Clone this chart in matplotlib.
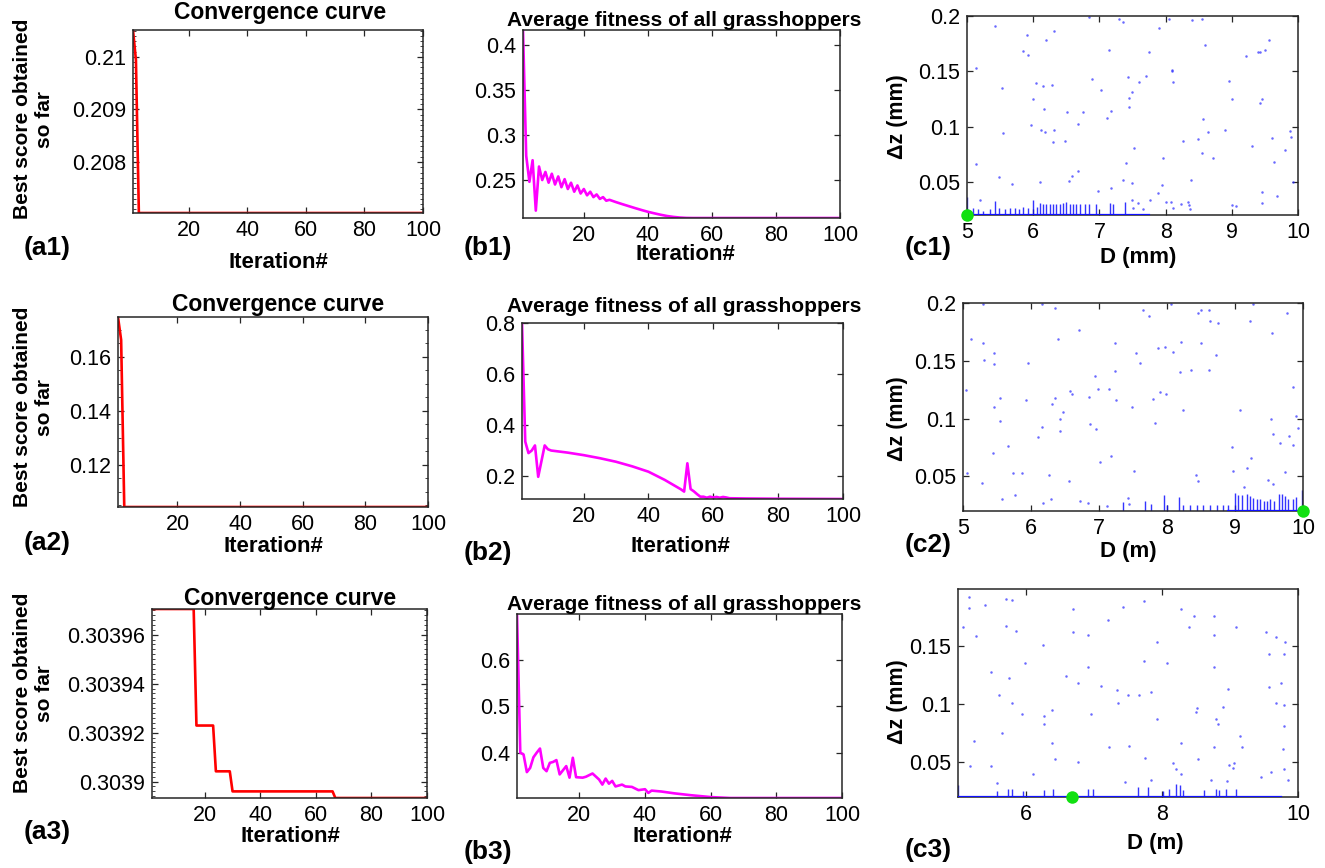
import matplotlib
matplotlib.use("Agg")
import matplotlib.pyplot as plt
from matplotlib.ticker import FuncFormatter, AutoMinorLocator

plt.rcParams['font.family'] = ['Liberation Sans', 'DejaVu Sans']

W, H = 1325, 868

# ---- convergence curves (best score so far) ----
a1_iter = [1, 2, 3, 100]
a1_best = [0.21051, 0.20994, 0.20703, 0.20703]

a2_iter = [1, 2, 3, 100]
a2_best = [0.1748, 0.1663, 0.1044, 0.1044]

a3_iter = [1, 16, 17, 23, 24, 29, 30, 66, 67, 100]
a3_best = [0.3039705, 0.3039705, 0.3039229, 0.3039229, 0.3039042,
           0.3039042, 0.3038960, 0.3038960, 0.3038933, 0.3038933]

# ---- average fitness of all grasshoppers ----
b1_iter = [1, 2, 3, 4, 5, 6, 7, 8, 9, 10, 11, 12, 13, 14, 15, 16, 17, 18, 19,
           20, 21, 22, 23, 24, 25, 26, 27, 28, 30, 32, 34, 36, 38, 40, 42, 44,
           46, 48, 50, 52, 54, 100]
b1_avg = [0.4167, 0.277, 0.248, 0.272, 0.216, 0.265, 0.250, 0.259, 0.247,
          0.257, 0.245, 0.254, 0.242, 0.251, 0.240, 0.247, 0.237, 0.244,
          0.235, 0.240, 0.233, 0.237, 0.231, 0.234, 0.229, 0.231, 0.227,
          0.228, 0.2255, 0.2232, 0.2210, 0.2188, 0.2167, 0.2147, 0.2130,
          0.2114, 0.2100, 0.2090, 0.2083, 0.2079, 0.2078, 0.2078]

b2_iter = [1, 2, 3, 4, 5, 6, 8, 9, 10, 15, 20, 25, 30, 35, 40, 45, 50, 51,
           52, 53, 54, 55, 56, 57, 58, 59, 60, 61, 62, 63, 64, 65, 70, 80, 100]
b2_avg = [0.80, 0.335, 0.29, 0.30, 0.32, 0.197, 0.32, 0.305, 0.30, 0.292,
          0.282, 0.270, 0.256, 0.238, 0.217, 0.185, 0.148, 0.139, 0.25,
          0.149, 0.14, 0.129, 0.119, 0.119, 0.115, 0.119, 0.116, 0.118,
          0.115, 0.118, 0.116, 0.113, 0.112, 0.111, 0.110]

b3_iter = [1, 2, 3, 4, 5, 6, 7, 8, 9, 10, 11, 12, 13, 14, 16, 17, 18, 19, 21,
           22, 24, 26, 27, 28, 29, 30, 31, 33, 34, 36, 38, 40, 41, 42, 45, 49,
           54, 60, 66, 100]
b3_avg = [0.70, 0.40, 0.396, 0.358, 0.367, 0.39, 0.400, 0.409, 0.367, 0.36,
          0.378, 0.380, 0.384, 0.353, 0.371, 0.346, 0.389, 0.347, 0.346,
          0.348, 0.355, 0.342, 0.331, 0.344, 0.333, 0.339, 0.327, 0.331,
          0.327, 0.326, 0.319, 0.321, 0.313, 0.318, 0.316, 0.312, 0.308,
          0.304, 0.302, 0.302]

# ---- search history: grasshopper positions (D, dz) ----
c1_d = [5.42, 5.90, 5.85, 5.92, 6.20, 6.31, 5.14, 5.53, 6.04, 6.29, 6.15, 5.99,
        6.16, 6.51, 6.75, 5.97, 6.12, 6.18, 6.31, 6.30, 6.48, 6.68, 5.55, 5.14,
        5.48, 5.68, 6.11, 6.54, 6.59, 6.68, 6.98, 6.89, 7.03, 7.14, 7.18, 7.12,
        6.84, 7.30, 7.36, 7.90, 8.05, 8.40, 8.55, 8.60, 7.75, 7.71, 7.43, 7.44,
        7.49, 7.60, 7.44, 8.09, 8.10, 8.11, 7.40, 7.53, 7.96, 8.26, 8.49, 8.55,
        8.64, 8.57, 8.71, 8.89, 8.96, 9.01, 9.21, 9.39, 9.42, 9.50, 9.56, 9.45,
        9.42, 9.61, 9.80, 9.88, 9.89, 9.30, 9.64, 9.92, 9.46, 9.45, 9.68, 8.39,
        7.88, 7.94, 7.36, 7.49, 7.18, 8.00, 8.08, 8.24, 8.34, 8.35, 9.00, 9.06,
        8.11, 7.77, 7.49, 7.58, 7.66, 7.51, 8.37, 5.20]
c1_dz = [0.191, 0.183, 0.168, 0.165, 0.178, 0.186, 0.153, 0.135, 0.139, 0.138,
         0.137, 0.125, 0.116, 0.113, 0.113, 0.101, 0.097, 0.095, 0.097, 0.086,
         0.087, 0.102, 0.094, 0.066, 0.054, 0.048, 0.050, 0.051, 0.055, 0.060,
         0.042, 0.143, 0.133, 0.169, 0.114, 0.108, 0.199, 0.197, 0.195, 0.189,
         0.197, 0.196, 0.197, 0.174, 0.167, 0.146, 0.145, 0.126, 0.131, 0.140,
         0.118, 0.151, 0.150, 0.140, 0.067, 0.081, 0.072, 0.087, 0.089, 0.076,
         0.095, 0.107, 0.072, 0.097, 0.141, 0.125, 0.164, 0.167, 0.167, 0.169,
         0.178, 0.125, 0.121, 0.090, 0.079, 0.096, 0.091, 0.082, 0.068, 0.050,
         0.041, 0.031, 0.037, 0.052, 0.040, 0.047, 0.052, 0.049, 0.044, 0.032,
         0.032, 0.030, 0.032, 0.029, 0.029, 0.028, 0.026, 0.034, 0.034, 0.031,
         0.025, 0.026, 0.025, 0.034]
# columns of positions piled just above the lower dz bound
c1_stack_d = [5.00, 5.09, 5.17, 5.24, 5.34, 5.42, 5.49, 5.58, 5.65, 5.72, 5.79,
              5.85, 5.92, 6.00, 6.05, 6.10, 6.15, 6.20, 6.25, 6.30, 6.35, 6.40,
              6.45, 6.50, 6.55, 6.60, 6.65, 6.70, 6.78, 6.85, 6.95, 7.16, 7.21,
              7.38]
c1_stack_top = [0.0366, 0.026, 0.025, 0.024, 0.025, 0.0325, 0.026, 0.025,
                0.026, 0.026, 0.025, 0.027, 0.026, 0.0335, 0.027, 0.031, 0.030,
                0.030, 0.030, 0.030, 0.030, 0.030, 0.031, 0.032, 0.030, 0.030,
                0.030, 0.030, 0.030, 0.030, 0.030, 0.031, 0.030, 0.032]
c1_floor = [5.0, 7.75]
c1_best = (5.0, 0.02)

c2_d = [5.12, 5.29, 5.31, 5.46, 5.46, 5.04, 5.46, 5.55, 5.55, 5.66, 5.44, 5.28,
        5.73, 5.58, 5.76, 5.06, 5.29, 6.16, 6.36, 6.40, 5.96, 5.93, 6.16, 6.11,
        6.36, 6.31, 6.42, 6.43, 6.47, 6.27, 5.87, 6.56, 6.58, 6.60, 6.18, 6.29,
        6.71, 6.94, 6.86, 6.98, 6.87, 6.96, 7.01, 7.17, 7.15, 7.25, 7.23, 7.24,
        7.48, 7.52, 7.55, 7.61, 7.65, 7.74, 7.79, 7.83, 7.87, 7.90, 7.97, 7.99,
        8.09, 8.06, 8.19, 8.21, 8.23, 8.36, 8.43, 8.50, 8.46, 8.50, 8.62, 8.63,
        8.75, 8.72, 8.62, 8.45, 8.96, 8.97, 9.07, 9.22, 9.27, 9.23, 9.17, 9.13,
        9.53, 9.55, 9.77, 9.85, 9.89, 9.93, 9.80, 9.66, 9.85, 9.56, 9.74, 9.48,
        9.56, 6.72, 6.84, 7.12, 7.43, 7.44]
c2_dz = [0.169, 0.165, 0.151, 0.157, 0.147, 0.125, 0.110, 0.118, 0.098, 0.076,
         0.070, 0.044, 0.053, 0.030, 0.034, 0.053, 0.199, 0.199, 0.196, 0.169,
         0.148, 0.116, 0.093, 0.084, 0.118, 0.113, 0.100, 0.089, 0.106, 0.051,
         0.053, 0.046, 0.124, 0.121, 0.027, 0.030, 0.177, 0.137, 0.119, 0.126,
         0.095, 0.091, 0.062, 0.068, 0.126, 0.116, 0.141, 0.165, 0.110, 0.055,
         0.157, 0.148, 0.194, 0.189, 0.117, 0.096, 0.161, 0.123, 0.162, 0.121,
         0.158, 0.199, 0.140, 0.166, 0.107, 0.142, 0.051, 0.165, 0.191, 0.194,
         0.194, 0.184, 0.183, 0.155, 0.142, 0.046, 0.075, 0.055, 0.107, 0.184,
         0.199, 0.066, 0.057, 0.041, 0.100, 0.174, 0.191, 0.127, 0.102, 0.092,
         0.085, 0.079, 0.077, 0.087, 0.054, 0.047, 0.043, 0.029, 0.027, 0.024,
         0.031, 0.026]
c2_stack_d = [7.36, 7.68, 7.77, 7.95, 8.00, 8.18, 8.24, 8.34, 8.44, 8.53, 8.63,
              8.73, 8.83, 8.90, 9.00, 9.05, 9.10, 9.18, 9.22, 9.27, 9.32, 9.37,
              9.42, 9.47, 9.52, 9.57, 9.64, 9.69, 9.74, 9.78, 9.85, 9.90, 9.99]
c2_stack_top = [0.028, 0.029, 0.026, 0.034, 0.025, 0.032, 0.025, 0.025, 0.025,
                0.025, 0.025, 0.025, 0.025, 0.025, 0.036, 0.034, 0.034, 0.035,
                0.033, 0.031, 0.030, 0.030, 0.029, 0.029, 0.030, 0.029, 0.035,
                0.035, 0.033, 0.030, 0.030, 0.032, 0.038]
c2_floor = [8.9, 10.0]
c2_best = (10.0, 0.02)

c3_d = [5.07, 5.16, 5.16, 5.39, 5.70, 5.80, 5.26, 5.71, 5.85, 5.48, 5.75, 5.60,
        5.79, 5.98, 5.94, 5.65, 5.24, 5.17, 5.48, 5.57, 6.11, 6.25, 6.27, 6.27,
        6.38, 6.38, 6.42, 6.59, 6.69, 6.69, 6.76, 6.76, 6.91, 6.91, 6.96, 7.10,
        7.20, 7.22, 7.34, 7.35, 7.42, 7.45, 7.50, 7.52, 7.66, 7.74, 7.74, 7.75,
        7.84, 7.93, 7.93, 7.84, 8.07, 8.16, 8.21, 8.28, 8.28, 8.28, 8.39, 8.47,
        8.52, 8.50, 8.53, 8.77, 8.76, 8.77, 8.79, 8.82, 8.77, 8.72, 8.89, 8.97,
        8.96, 8.99, 9.06, 9.09, 9.14, 9.18, 9.04, 9.53, 9.58, 9.57, 9.68, 9.75,
        9.68, 9.79, 9.81, 9.80, 9.80, 9.78, 9.80, 9.86, 9.45, 9.61]
c3_dz = [0.167, 0.193, 0.183, 0.186, 0.191, 0.190, 0.159, 0.168, 0.163, 0.128,
         0.123, 0.108, 0.101, 0.136, 0.092, 0.075, 0.068, 0.047, 0.047, 0.032,
         0.040, 0.151, 0.090, 0.083, 0.095, 0.067, 0.053, 0.124, 0.182, 0.162,
         0.118, 0.050, 0.160, 0.132, 0.092, 0.116, 0.173, 0.063, 0.112, 0.101,
         0.184, 0.033, 0.108, 0.064, 0.108, 0.189, 0.137, 0.054, 0.111, 0.154,
         0.087, 0.035, 0.136, 0.049, 0.044, 0.182, 0.067, 0.040, 0.167, 0.176,
         0.097, 0.093, 0.053, 0.176, 0.160, 0.132, 0.087, 0.083, 0.063, 0.035,
         0.098, 0.113, 0.034, 0.048, 0.049, 0.167, 0.073, 0.063, 0.045, 0.162,
         0.143, 0.115, 0.158, 0.118, 0.101, 0.143, 0.154, 0.099, 0.081, 0.061,
         0.044, 0.035, 0.037, 0.042]
c3_stack_d = [5.00, 5.58, 5.74, 5.80, 5.95, 6.27, 6.39, 6.91, 6.98, 7.64, 7.80,
              8.01, 8.11, 8.21, 8.26, 8.31, 8.62, 8.80, 8.84, 8.94, 9.09]
c3_stack_top = [0.030, 0.025, 0.027, 0.027, 0.025, 0.026, 0.027, 0.027, 0.027,
                0.029, 0.029, 0.025, 0.027, 0.031, 0.030, 0.026, 0.026, 0.027,
                0.026, 0.027, 0.027]
c3_floor = [5.0, 9.75]
c3_best = (6.68, 0.02)

iter_ticks = [20, 40, 60, 80, 100]

# axes boxes in pixels: left, top, right, bottom
boxes = {
    'a1': (133, 30, 423, 213), 'b1': (523, 30, 840, 218), 'c1': (967, 16, 1298, 215),
    'a2': (118, 317, 428, 507), 'b2': (522, 323, 843, 499), 'c2': (963, 303, 1303, 511),
    'a3': (152, 609, 427, 798), 'b3': (517, 614, 842, 798), 'c3': (958, 589, 1298, 797),
}

EDGE = '#262626'
fmt_g = FuncFormatter(lambda v, p: '%g' % round(v, 8))


def px_axes(fig, key):
    l, t, r, b = boxes[key]
    ax = fig.add_axes([l / W, 1 - b / H, (r - l) / W, (b - t) / H])
    for s in ax.spines.values():
        s.set_color(EDGE)
        s.set_linewidth(1.1)
    ax.tick_params(direction='in', top=True, right=True, length=4, width=0.9,
                   color=EDGE, labelsize=15.5, pad=5)
    ax.tick_params(which='minor', direction='in', top=False, right=True,
                   length=2, width=0.6, color=EDGE)
    return ax


def fig_text(x, y, s, **kw):
    fig.text(x / W, 1 - y / H, s, ha='center', va='center', **kw)


fig = plt.figure(figsize=(W / 100, H / 100), dpi=100)


def convergence(key, it, best, ylim, yticks, minors):
    ax = px_axes(fig, key)
    ax.plot(it, best, color='#ff0000', lw=1.9)
    ax.set_xlim(1, 100)
    ax.set_ylim(*ylim)
    ax.set_xticks(iter_ticks)
    ax.set_yticks(yticks)
    ax.yaxis.set_major_formatter(fmt_g)
    ax.yaxis.set_minor_locator(AutoMinorLocator(minors))
    return ax


def average(key, it, avg, ylim, yticks):
    ax = px_axes(fig, key)
    ax.plot(it, avg, color='#ff00ff', lw=1.9)
    ax.set_xlim(1, 100)
    ax.set_ylim(*ylim)
    ax.set_xticks(iter_ticks)
    ax.set_yticks(yticks)
    ax.yaxis.set_major_formatter(fmt_g)
    return ax


def history(key, d, dz, stack_d, stack_top, floor, best, ylim, xticks, yticks):
    ax = px_axes(fig, key)
    ax.plot(d, dz, 'o', color='#2a2aff', ms=1.8, mew=0, alpha=0.7)
    ax.vlines(stack_d, ylim[0], stack_top, color='#1010ff', lw=1.0, alpha=0.85)
    ax.plot(floor, [ylim[0]] * len(floor), color='#1010ff', lw=1.6, zorder=3)
    ax.plot(*best, 'o', color='#11e011', ms=9, mew=0, clip_on=False, zorder=5)
    ax.set_xlim(5, 10)
    ax.set_ylim(*ylim)
    ax.set_xticks(xticks)
    ax.set_yticks(yticks)
    ax.yaxis.set_major_formatter(fmt_g)
    return ax


convergence('a1', a1_iter, a1_best, (0.20703, 0.21051), [0.208, 0.209, 0.21], 10)
convergence('a2', a2_iter, a2_best, (0.1044, 0.1748), [0.12, 0.14, 0.16], 4)
convergence('a3', a3_iter, a3_best, (0.3038933, 0.3039705),
            [0.3039, 0.30392, 0.30394, 0.30396], 10)

average('b1', b1_iter, b1_avg, (0.2078, 0.4167), [0.25, 0.3, 0.35, 0.4])
average('b2', b2_iter, b2_avg, (0.11, 0.80), [0.2, 0.4, 0.6, 0.8])
average('b3', b3_iter, b3_avg, (0.302, 0.70), [0.4, 0.5, 0.6])

history('c1', c1_d, c1_dz, c1_stack_d, c1_stack_top, c1_floor, c1_best,
        (0.02, 0.2), [5, 6, 7, 8, 9, 10], [0.05, 0.1, 0.15, 0.2])
history('c2', c2_d, c2_dz, c2_stack_d, c2_stack_top, c2_floor, c2_best,
        (0.02, 0.2), [5, 6, 7, 8, 9, 10], [0.05, 0.1, 0.15, 0.2])
history('c3', c3_d, c3_dz, c3_stack_d, c3_stack_top, c3_floor, c3_best,
        (0.02, 0.1995), [6, 8, 10], [0.05, 0.1, 0.15])

bold = dict(fontweight='bold')

# titles
for x, y in [(280, 12), (278, 305), (290, 598)]:
    fig_text(x, y, 'Convergence curve', fontsize=16.5, **bold)
for x, y in [(684, 20), (684, 307), (684, 604)]:
    fig_text(x, y, 'Average fitness of all grasshoppers', fontsize=15, **bold)

# y labels
for y in [119, 407, 693]:
    fig_text(34, y, 'Best score obtained\nso far', fontsize=15, rotation=90,
             linespacing=1.2, **bold)
for y in [117, 419, 702]:
    fig_text(897, y, 'Δz (mm)', fontsize=15.5, rotation=90, **bold)

# x labels
for x, y in [(278, 262), (685, 255), (273, 547), (680, 547), (290, 837), (682, 837)]:
    fig_text(x, y, 'Iteration#', fontsize=16, **bold)
fig_text(1138, 258, 'D (mm)', fontsize=16, **bold)
fig_text(1128, 552, 'D (m)', fontsize=16, **bold)
fig_text(1155, 843, 'D (m)', fontsize=16, **bold)

# panel tags
tags = [('(a1)', 47, 248), ('(b1)', 488, 248), ('(c1)', 928, 248),
        ('(a2)', 47, 543), ('(b2)', 488, 553), ('(c2)', 928, 545),
        ('(a3)', 47, 832), ('(b3)', 488, 852), ('(c3)', 928, 850)]
for s, x, y in tags:
    fig_text(x, y, s, fontsize=19, **bold)

fig.savefig('out.png', dpi=100)
